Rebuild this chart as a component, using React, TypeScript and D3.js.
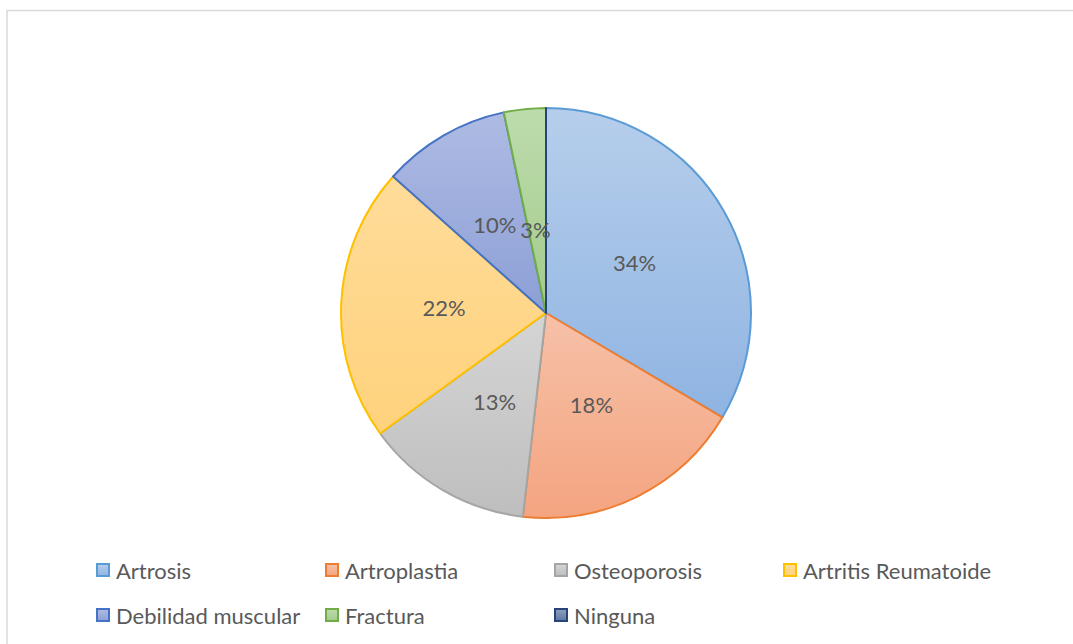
import React from "react";
import * as d3 from "d3";

const categories = ["Artrosis", "Artroplastia", "Osteoporosis", "Artritis Reumatoide", "Debilidad muscular", "Fractura", "Ninguna"];
const values = [33.5, 18.3, 13.2, 21.6, 10.1, 3.3, 0];
const borderColors = ["#5b9bd5", "#ed7d31", "#a5a5a5", "#ffc000", "#4472c4", "#70ad47", "#264478"];
const gradTop = ["#b6ceeb", "#f6c1a8", "#d5d5d5", "#ffdc9a", "#aebbe3", "#bddcad", "#8ea0c0"];
const gradBottom = ["#8fb4e2", "#f4a480", "#bebebe", "#ffd27c", "#8c9fd6", "#a3cb8b", "#5d77a3"];

const W = 1073, H = 644;
const cx = 546, cy = 313, R = 205;

export default function App() {
  const pie = d3.pie<number>().sort(null).value((d) => d)(values);
  const arc = d3.arc<d3.PieArcDatum<number>>().innerRadius(0).outerRadius(R);
  const total = d3.sum(values);
  const labelR = 102;
  const pct = (v: number) => `${Math.round((v / total) * 100 + 1e-9)}%`;

  const legendCols = d3.scalePoint<number>().domain([0, 1, 2, 3]).range([96, 783]);
  const legendRows = [570, 615];

  return (
    <svg width={W} height={H} style={{ position: "absolute", left: 0, top: 0, fontFamily: "Lato, 'Open Sans', sans-serif" }}>
      <defs>
        {categories.map((c, i) => (
          <linearGradient key={c} id={`g${i}`} x1="0" y1="0" x2="0" y2="1">
            <stop offset="0" stopColor={gradTop[i]} />
            <stop offset="1" stopColor={gradBottom[i]} />
          </linearGradient>
        ))}
      </defs>
      <rect x={0} y={0} width={W} height={H} fill="#fff" />
      <rect x={7} y={10.5} width={W + 10} height={H + 10} fill="#fff" stroke="#d9d9d9" strokeWidth={1.5} />
      <g transform={`translate(${cx},${cy})`}>
        {pie.map((p, i) => (
          <path key={i} d={arc(p) || ""} fill={`url(#g${i})`} stroke={borderColors[i]} strokeWidth={2} strokeLinejoin="round" />
        ))}
        {pie.map((p, i) => {
          if (p.value === 0) return null;
          const a = (p.startAngle + p.endAngle) / 2;
          const x = Math.sin(a) * labelR;
          let y = -Math.cos(a) * labelR;
          if (p.value / total < 0.05) { y += 18; }
          return (
            <text key={"l" + i} x={x} y={y} textAnchor="middle" dominantBaseline="central" fontSize={22} fill="#595959">
              {pct(p.value)}
            </text>
          );
        })}
      </g>
      {categories.map((c, i) => {
        const col = i % 4, row = Math.floor(i / 4);
        const x = legendCols(col)!;
        const y = legendRows[row];
        return (
          <g key={"lg" + i}>
            <rect x={x + 1} y={y - 6} width={12} height={12} fill={`url(#g${i})`} stroke={borderColors[i]} strokeWidth={2} />
            <text x={x + 20} y={y} dominantBaseline="central" fontSize={22} fill="#595959">{c}</text>
          </g>
        );
      })}
    </svg>
  );
}
